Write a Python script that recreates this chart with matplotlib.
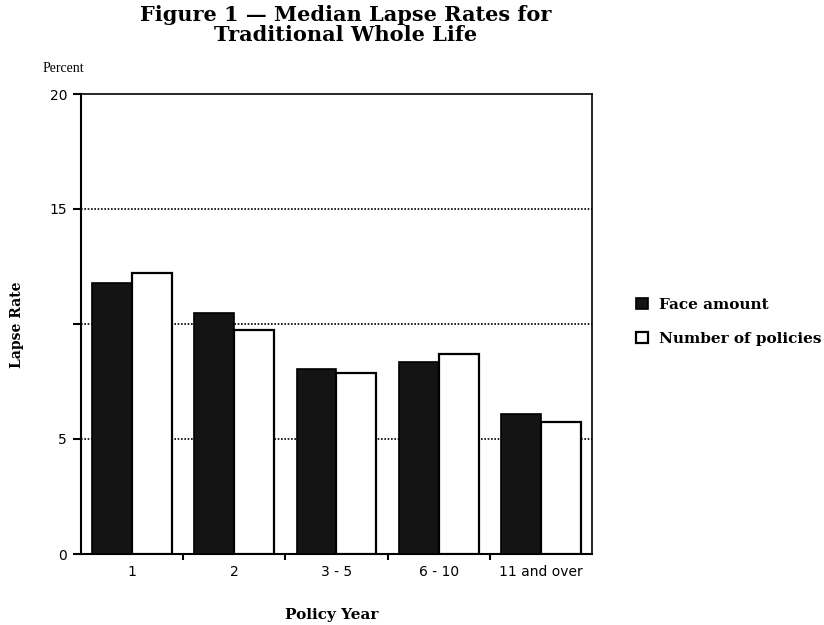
import matplotlib.pyplot as plt
import numpy as np

# policy year groups on the x-axis
policy_years = ['1', '2', '3 - 5', '6 - 10', '11 and over']
# median lapse rates in percent
face_amount = [11.8, 10.5, 8.05, 8.35, 6.1]
number_of_policies = [12.2, 9.75, 7.85, 8.7, 5.75]

# y ticks shown on the chart (the 10 label is missing in the original)
y_ticks = [0, 5, 10, 15, 20]
y_tick_labels = ['0', '5', '', '15', '20']

fig = plt.figure(figsize=(8.24, 6.25), dpi=100)
ax = fig.add_axes([0.0983, 0.1136, 0.6201, 0.7360])

x = np.arange(len(policy_years))
width = 0.39

ax.bar(x - width / 2, face_amount, width, color='#141414', edgecolor='black',
       linewidth=1.2, label='Face amount', zorder=3)
ax.bar(x + width / 2, number_of_policies, width, color='white', edgecolor='black',
       linewidth=1.6, label='Number of policies', zorder=3)

ax.set_xlim(-0.5, len(policy_years) - 0.5)
ax.set_ylim(0, 20)

# dotted gridlines at 5, 10 and 15
for g in [5, 10, 15]:
    ax.axhline(g, color='black', linestyle=(0, (1, 1)), linewidth=1.2, zorder=1)

ax.set_yticks(y_ticks)
ax.set_yticklabels(y_tick_labels, fontsize=10, family='DejaVu Sans')
ax.set_xticks(x)
ax.set_xticklabels(policy_years, fontsize=10, family='DejaVu Sans')
ax.set_xticks(np.arange(0.5, len(policy_years) - 1, 1), minor=True)
ax.tick_params(axis='x', which='major', length=0, pad=8)
ax.tick_params(axis='x', which='minor', length=4, width=1.5, direction='out')
ax.tick_params(axis='y', length=6, width=1.5, direction='out', pad=4)

for s in ax.spines.values():
    s.set_linewidth(1.5)
ax.spines['top'].set_linewidth(1.2)
ax.spines['right'].set_linewidth(1.2)

fig.text(0.419, 0.992, 'Figure 1 \u2014 Median Lapse Rates for\nTraditional Whole Life',
         ha='center', va='top', fontsize=15, fontweight='bold',
         family='DejaVu Serif', linespacing=1.0)
fig.text(0.052, 0.891, 'Percent', ha='left', va='center', fontsize=10,
         family='Liberation Serif')
fig.text(0.021, 0.48, 'Lapse Rate', ha='center', va='center', rotation=90,
         fontsize=10, fontweight='bold', family='DejaVu Serif')
fig.text(0.402, 0.016, 'Policy Year', ha='center', va='center', fontsize=11,
         fontweight='bold', family='DejaVu Serif')

ax.legend(loc='center left', bbox_to_anchor=(1.06, 0.505), frameon=False,
          prop={'family': 'DejaVu Serif', 'weight': 'bold', 'size': 11},
          handlelength=0.75, handleheight=0.75, handletextpad=0.7, labelspacing=1.3)

plt.savefig('out.png', dpi=100)
